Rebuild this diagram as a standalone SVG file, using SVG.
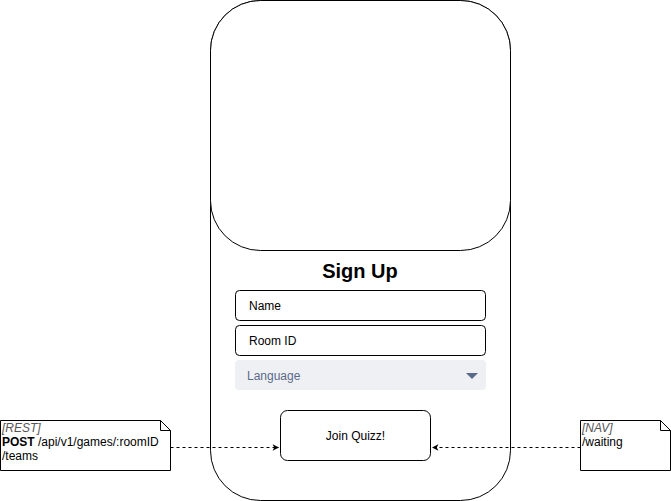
<svg xmlns="http://www.w3.org/2000/svg" width="671" height="501" viewBox="0 0 671 501">
<style>
.s{fill:#fff;stroke:#000;stroke-width:1}
.t{font-family:"Liberation Sans",Arial,sans-serif;font-size:12px;fill:#000}
.c{fill:none;stroke:#000;stroke-width:1;stroke-dasharray:3 3}
</style>
<defs>
<marker id="a" viewBox="0 0 10 10" refX="9" refY="5" markerWidth="8" markerHeight="8" orient="auto" markerUnits="userSpaceOnUse">
<path d="M1,1 L9,5 L1,9 L3,5 Z" fill="#000"/>
</marker>
</defs>
<g id="phone"><rect class="s" x="210.5" y="0.5" width="300" height="500" rx="50" ry="50"/></g>
<g id="screen"><rect class="s" x="210.5" y="0.5" width="300" height="250" rx="50" ry="50"/></g>
<g id="title"><text x="360" y="278" text-anchor="middle" style="font-family:'Liberation Sans',Arial,sans-serif;font-size:20px;font-weight:bold">Sign Up</text></g>
<g id="name"><rect class="s" x="235.5" y="290.5" width="250" height="30" rx="4"/><text class="t" x="249" y="310">Name</text></g>
<g id="room"><rect class="s" x="235.5" y="325.5" width="250" height="30" rx="4"/><text class="t" x="249" y="345">Room ID</text></g>
<g id="language"><rect x="235" y="360" width="251" height="30" rx="4" fill="#eff0f3"/><text class="t" x="247" y="380" style="fill:#5a6b8a">Language</text><path d="M466,373 L478,373 L472,379 Z" fill="#5a6b8a"/></g>
<g id="join"><rect class="s" x="280.5" y="410.5" width="150" height="50" rx="7"/><text class="t" x="355.5" y="440" text-anchor="middle">Join Quizz!</text></g>
<g id="rest"><path class="s" d="M0.5,420.5 H160.5 L170.5,430.5 V470.5 H0.5 Z"/><path class="s" d="M160.5,420.5 V430.5 H170.5" style="fill:none"/>
<text class="t" x="2" y="432" style="font-style:italic;fill:#555">[REST]</text>
<text class="t" x="2" y="446"><tspan font-weight="bold">POST</tspan> /api/v1/games/:roomID</text>
<text class="t" x="2" y="460">/teams</text></g>
<g id="nav"><path class="s" d="M580.5,420.5 H660.5 L670.5,430.5 V470.5 H580.5 Z"/><path class="s" d="M660.5,420.5 V430.5 H670.5" style="fill:none"/>
<text class="t" x="582" y="432" style="font-style:italic;fill:#555">[NAV]</text>
<text class="t" x="582" y="446">/waiting</text></g>
<g id="connectors">
<path class="c" d="M170.5,447.5 H279" marker-end="url(#a)"/>
<path class="c" d="M580.5,447.5 H432" marker-end="url(#a)"/>
</g>
</svg>
